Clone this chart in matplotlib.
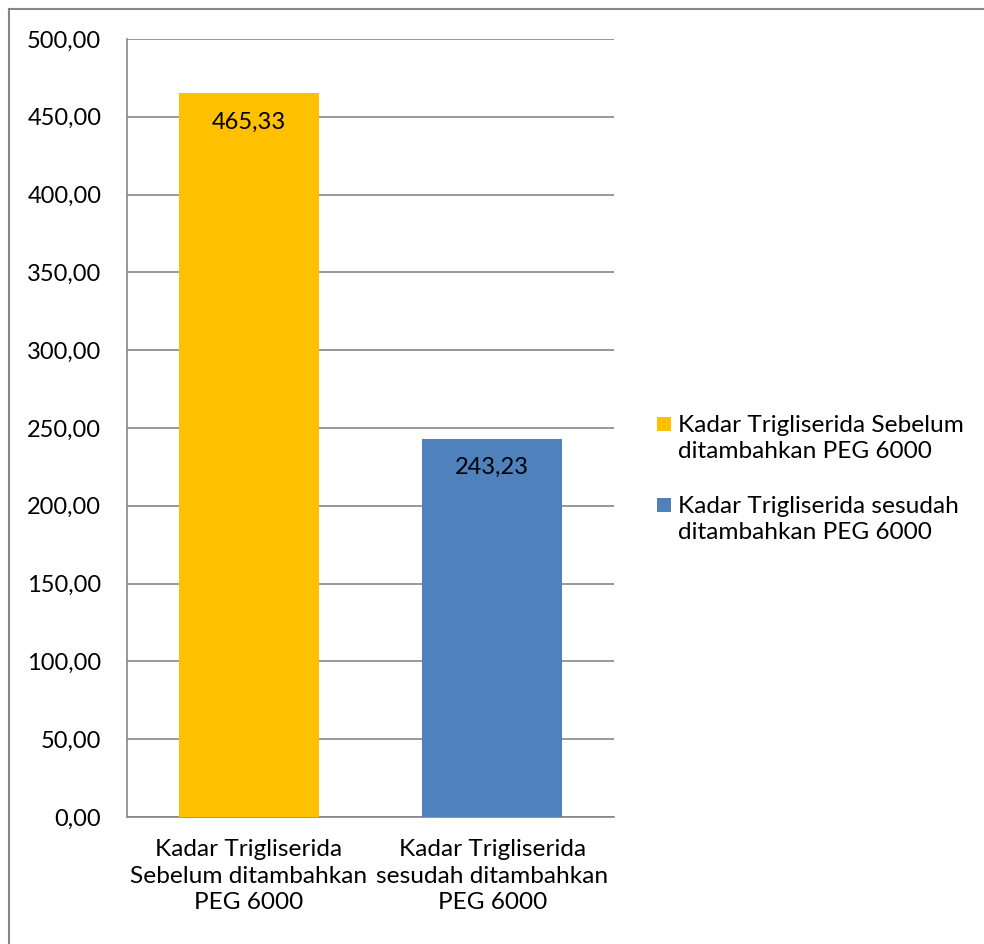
import matplotlib
matplotlib.use("Agg")
import matplotlib.pyplot as plt
from matplotlib.lines import Line2D
from matplotlib.patches import Rectangle

plt.rcParams['font.family'] = ['Lato', 'DejaVu Sans']

categories = ["Kadar Trigliserida\nSebelum ditambahkan\nPEG 6000",
              "Kadar Trigliserida\nsesudah ditambahkan\nPEG 6000"]
values = [465.33, 243.23]
legend_labels = ["Kadar Trigliserida Sebelum\nditambahkan PEG 6000",
                 "Kadar Trigliserida sesudah\nditambahkan PEG 6000"]
colors = ["#FFC000", "#4F81BD"]
yticks = [0, 50, 100, 150, 200, 250, 300, 350, 400, 450, 500]

W, H = 984, 944
fig = plt.figure(figsize=(W/100, H/100), dpi=100)
ax = fig.add_axes([127/W, 1-817/H, (614-127)/W, (817-39)/H])

x = list(range(len(values)))
bars = ax.bar(x, values, width=0.575, color=colors, zorder=3)
ax.set_xlim(-0.5, 1.5)
ax.set_ylim(0, 500)
ax.set_yticks(yticks)
ax.set_yticklabels([f"{v:.2f}".replace('.', ',') for v in yticks], fontsize=17)
ax.set_xticks(x)
ax.set_xticklabels(categories, fontsize=17.6, linespacing=1.33)
ax.tick_params(axis='y', length=0, pad=18.5, colors='black')
ax.tick_params(axis='x', length=0, pad=16, colors='black')
ax.grid(axis='y', color='#868686', linewidth=1.2, zorder=0)
for s in ['top', 'right']:
    ax.spines[s].set_visible(False)
for s in ['left', 'bottom']:
    ax.spines[s].set_color('#868686')
    ax.spines[s].set_linewidth(1.2)

for b, v in zip(bars, values):
    ax.annotate(f"{v:.2f}".replace('.', ','), (b.get_x() + b.get_width()/2, v),
                xytext=(0, -21), textcoords='offset points', ha='center', va='center',
                fontsize=17, color='black', zorder=4)

# legend (square aligned with first text line, as in Excel)
leg_first_line = [424, 505]
for lbl, c, y0 in zip(legend_labels, colors, leg_first_line):
    fig.add_artist(Rectangle((657/W, 1-(y0+7)/H), 14/W, 14/H, facecolor=c,
                             edgecolor='none', transform=fig.transFigure))
    fig.text(678/W, 1-(y0+14.5)/H, lbl, ha='left', va='center', fontsize=17.6,
             linespacing=1.33)

# outer chart border (left and top visible)
fig.add_artist(Line2D([9/W, 9/W], [0, 1-9/H], color='#868686', linewidth=1.5,
                      transform=fig.transFigure))
fig.add_artist(Line2D([9/W, 1], [1-9/H, 1-9/H], color='#868686', linewidth=1.5,
                      transform=fig.transFigure))

fig.savefig("out.png", dpi=100)
